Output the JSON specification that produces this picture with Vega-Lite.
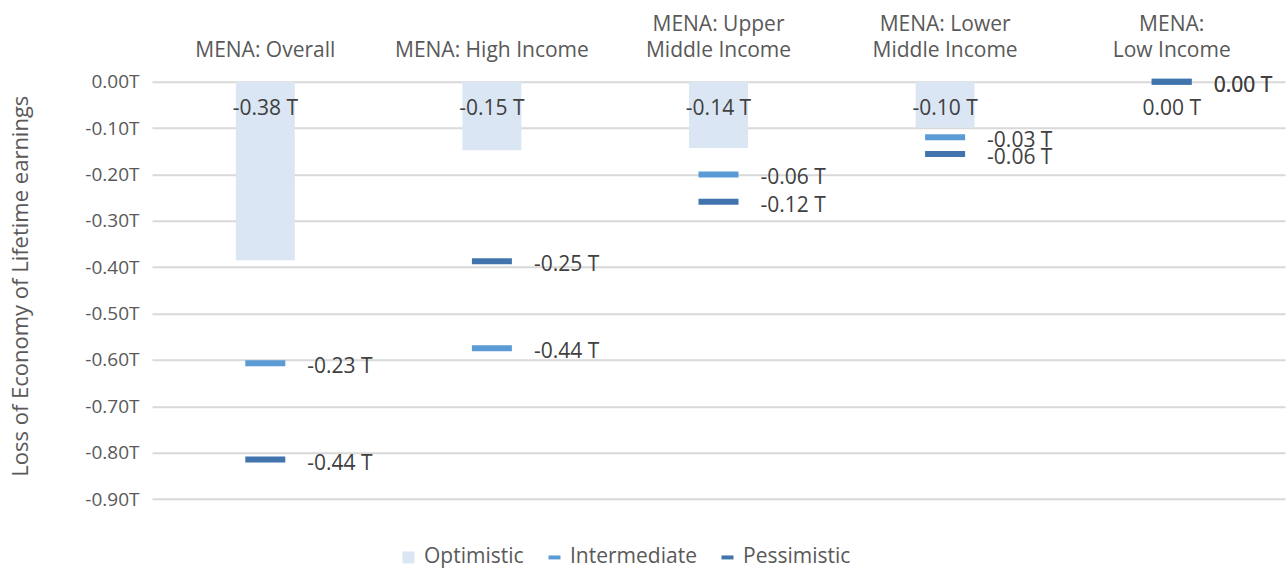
{
  "$schema": "https://vega.github.io/schema/vega-lite/v6.json",
  "autosize": {"type": "none"},
  "width": 1133,
  "height": 417.3,
  "padding": {"left": 152, "top": 81.7, "right": 3, "bottom": 72},
  "background": "white",
  "config": {"font": "Open Sans", "view": {"stroke": null}},
  "data": {
    "values": [
      {"region": "MENA: Overall", "scenario": "Optimistic", "value": -0.385, "label": "-0.38 T"},
      {"region": "MENA: High Income", "scenario": "Optimistic", "value": -0.148, "label": "-0.15 T"},
      {"region": "MENA: Upper Middle Income", "scenario": "Optimistic", "value": -0.143, "label": "-0.14 T"},
      {"region": "MENA: Lower Middle Income", "scenario": "Optimistic", "value": -0.099, "label": "-0.10 T"},
      {"region": "MENA: Low Income", "scenario": "Optimistic", "value": 0, "label": "0.00 T"},
      {"region": "MENA: Overall", "scenario": "Intermediate", "value": -0.607, "label": "-0.23 T"},
      {"region": "MENA: High Income", "scenario": "Intermediate", "value": -0.575, "label": "-0.44 T"},
      {"region": "MENA: Upper Middle Income", "scenario": "Intermediate", "value": -0.200, "label": "-0.06 T"},
      {"region": "MENA: Lower Middle Income", "scenario": "Intermediate", "value": -0.120, "label": "-0.03 T"},
      {"region": "MENA: Low Income", "scenario": "Intermediate", "value": 0, "label": "0.00 T"},
      {"region": "MENA: Overall", "scenario": "Pessimistic", "value": -0.815, "label": "-0.44 T"},
      {"region": "MENA: High Income", "scenario": "Pessimistic", "value": -0.387, "label": "-0.25 T"},
      {"region": "MENA: Upper Middle Income", "scenario": "Pessimistic", "value": -0.259, "label": "-0.12 T"},
      {"region": "MENA: Lower Middle Income", "scenario": "Pessimistic", "value": -0.156, "label": "-0.06 T"},
      {"region": "MENA: Low Income", "scenario": "Pessimistic", "value": 0, "label": "0.00 T"}
    ]
  },
  "encoding": {
    "x": {
      "field": "region",
      "type": "nominal",
      "sort": ["MENA: Overall", "MENA: High Income", "MENA: Upper Middle Income", "MENA: Lower Middle Income", "MENA: Low Income"],
      "scale": {"paddingInner": 0, "paddingOuter": 0},
      "axis": {
        "orient": "top",
        "title": null,
        "domain": false,
        "ticks": false,
        "labelAngle": 0,
        "labelFontSize": 21,
        "labelColor": "#595959",
        "labelBaseline": "bottom",
        "labelLineHeight": 26,
        "labelPadding": 47,
        "labelLimit": 0,
        "labelExpr": "datum.label == 'MENA: Upper Middle Income' ? ['MENA: Upper', 'Middle Income'] : datum.label == 'MENA: Lower Middle Income' ? ['MENA: Lower', 'Middle Income'] : datum.label == 'MENA: Low Income' ? ['MENA:', 'Low Income'] : ['', datum.label]"
      }
    }
  },
  "layer": [
    {
      "transform": [{"filter": "datum.scenario == 'Optimistic'"}],
      "mark": {"type": "bar", "width": {"band": 0.26}},
      "encoding": {
        "y": {
          "field": "value",
          "type": "quantitative",
          "scale": {"domain": [-0.9, 0], "nice": false, "zero": true},
          "axis": {
            "values": [0, -0.1, -0.2, -0.3, -0.4, -0.5, -0.6, -0.7, -0.8, -0.9],
            "labelExpr": "(datum.value < 0 ? '-' : '') + format(abs(datum.value), '.2f') + 'T'",
            "domain": false,
            "ticks": false,
            "grid": true,
            "gridColor": "#d9d9d9",
            "gridWidth": 2,
            "labelFontSize": 19,
            "labelColor": "#595959",
            "labelPadding": 13,
            "title": "Loss of Economy of Lifetime earnings",
            "titleFontSize": 22,
            "titleFontWeight": "normal",
            "titleColor": "#595959",
            "titleX": -132,
            "titleY": 204,
            "titleAngle": -90,
            "titleAlign": "center",
            "titleBaseline": "middle"
          }
        },
        "color": {
          "field": "scenario",
          "type": "nominal",
          "scale": {"domain": ["Optimistic", "Intermediate", "Pessimistic"], "range": ["#dae6f3", "#5b9bd5", "#4174ad"]},
          "legend": {
            "orient": "none",
            "legendX": 246,
            "legendY": 465,
            "direction": "horizontal",
            "title": null,
            "labelFontSize": 21,
            "labelColor": "#595959",
            "symbolSize": 144,
            "labelOffset": 5,
            "columnPadding": 20,
            "encode": {
              "symbols": {
                "update": {
                  "shape": {"signal": "datum.value === 'Optimistic' ? 'square' : 'M-1,-0.33H1V0.33H-1Z'"}
                }
              }
            }
          }
        }
      }
    },
    {
      "transform": [{"filter": "datum.scenario != 'Optimistic'"}],
      "mark": {"type": "tick", "size": 40, "thickness": 6, "opacity": 1},
      "encoding": {
        "y": {"field": "value", "type": "quantitative"},
        "color": {"field": "scenario", "type": "nominal"}
      }
    },
    {
      "transform": [{"filter": "datum.scenario == 'Optimistic'"}],
      "mark": {"type": "text", "fontSize": 21, "color": "#404040", "baseline": "middle", "align": "center", "dy": 27},
      "encoding": {
        "y": {"datum": 0, "type": "quantitative"},
        "text": {"field": "label"}
      }
    },
    {
      "transform": [{"filter": "datum.scenario != 'Optimistic'"}],
      "mark": {"type": "text", "fontSize": 21, "color": "#404040", "baseline": "middle", "align": "left", "dx": 42, "dy": 4},
      "encoding": {
        "y": {"field": "value", "type": "quantitative"},
        "text": {"field": "label"}
      }
    }
  ]
}
